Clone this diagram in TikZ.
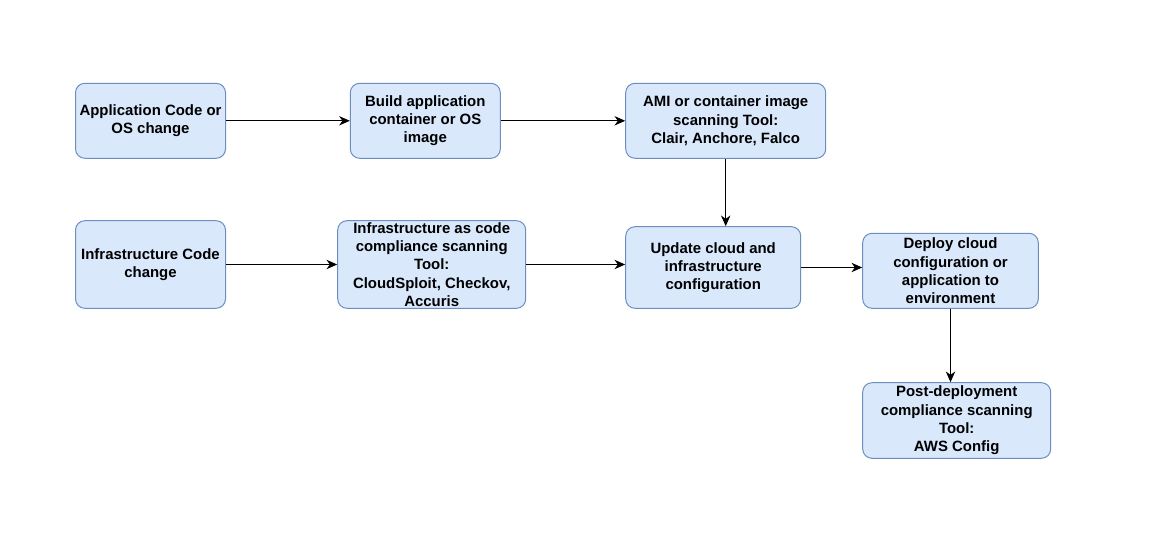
\documentclass[tikz,border=0pt]{standalone}
\usepackage{fontspec}
\setmainfont{Liberation Sans}
\usetikzlibrary{arrows.meta}
\definecolor{boxfill}{HTML}{DAE8FC}
\definecolor{boxline}{HTML}{6C8EBF}

\begin{document}
\begin{tikzpicture}[x=0.75pt,y=-0.75pt,
    box/.style={draw=boxline, fill=boxfill, rounded corners=7pt, align=center, inner sep=0pt,
        line width=0.75pt, font=\bfseries\fontsize{11.2}{13.7}\selectfont},
    arr/.style={-{Stealth[length=8pt,width=7pt,inset=2.5pt]}, line width=0.75pt}]
        %CANVAS
        \useasboundingbox (0,0) rectangle (1160,552);
        %TOP ROW
        \node[box, minimum width=112.5pt, minimum height=56.25pt] (appchange) at (150.5,120.8) {Application Code or\\OS change};
        \node[box, minimum width=112.5pt, minimum height=56.25pt] (buildimage) at (425.3,120.8) {Build application\\container or OS\\image};
        \node[box, minimum width=150pt, minimum height=56.25pt] (imagescan) at (725.7,120.8) {AMI or container image\\scanning Tool:\\Clair, Anchore, Falco};
        %MIDDLE ROW
        \node[box, minimum width=112.5pt, minimum height=65.7pt] (infrachange) at (150.5,264.5) {Infrastructure Code\\change};
        \node[box, minimum width=141pt, minimum height=65.7pt] (iacscan) at (431.7,264.5) {Infrastructure as code\\compliance scanning\\Tool:\\CloudSploit, Checkov,\\Accuris};
        \node[box, minimum width=131.25pt, minimum height=61.2pt] (update) at (713.2,267.5) {Update cloud and\\infrastructure\\configuration};
        \node[box, minimum width=131.7pt, minimum height=56.25pt] (deploy) at (950.5,270.8) {Deploy cloud\\configuration or\\application to\\environment};
        %BOTTOM
        \node[box, minimum width=141pt, minimum height=56.7pt] (postscan) at (956.7,420.5) {Post-deployment\\compliance scanning\\Tool:\\AWS Config};
        %ARROWS
        \draw[arr] (appchange.east) -- (buildimage.west);
        \draw[arr] (buildimage.east) -- (imagescan.west);
        \draw[arr] (infrachange.east) -- (iacscan.west);
        \draw[arr] (iacscan.east) -- (iacscan.east -| update.west);
        \draw[arr] (imagescan.south) -- (imagescan.south |- update.north);
        \draw[arr] (update.east) -- (update.east -| deploy.west);
        \draw[arr] (deploy.south) -- (deploy.south |- postscan.north);
    \end{tikzpicture}
\end{document}
